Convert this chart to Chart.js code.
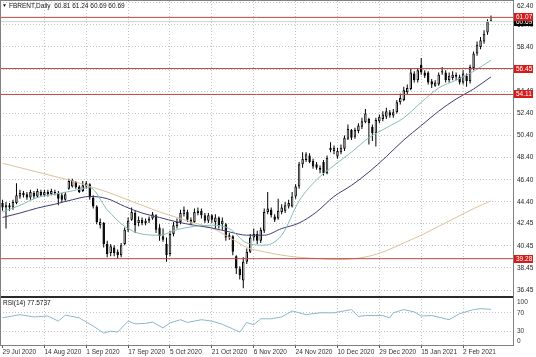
<!DOCTYPE html>
<html><head><meta charset="utf-8">
<script src="https://cdn.jsdelivr.net/npm/chart.js@4.4.1/dist/chart.umd.min.js"></script>
<style>
html,body{margin:0;padding:0;background:#fff;width:536px;height:357px;overflow:hidden}
.box{position:absolute;left:0;width:536px}
</style></head><body>
<div class="box" style="top:0;height:296px"><canvas id="c1"></canvas></div>
<div class="box" style="top:296px;height:61px"><canvas id="c2"></canvas></div>
<script>
// ---------- DATA ----------
const open = [44.3,43.9,44.1,43.9,44.3,44.9,45.2,45.1,44.8,45.2,44.9,45.3,45.0,45.3,45.1,45.3,45.2,45.0,44.6,45.6,
45.8,46.2,45.8,45.4,45.8,46.0,44.8,44.0,42.3,42.5,40.6,39.8,40.3,39.9,39.6,40.6,41.9,42.8,43.4,42.5,
42.8,42.5,42.7,42.9,43.2,42.1,41.3,40.6,39.7,41.5,42.2,42.6,43.3,43.5,42.8,42.6,43.4,43.6,43.2,42.7,
43.2,42.6,43.0,42.4,42.4,41.2,41.3,39.5,38.4,37.3,39.0,39.9,41.2,41.5,40.9,41.8,43.5,43.7,43.1,42.9,
43.5,43.6,44.0,44.0,44.9,45.8,47.8,48.2,48.6,48.1,47.8,47.5,48.0,47.0,49.3,49.0,48.5,48.9,49.2,50.1,
50.9,50.3,50.8,51.2,51.6,51.9,51.2,50.6,51.7,51.9,52.1,52.5,52.2,52.5,53.4,53.6,54.3,54.6,56.0,55.4,
56.8,56.1,56.1,55.3,54.9,55.0,56.1,56.1,55.4,55.6,55.9,55.7,55.2,55.8,55.3,56.5,57.8,58.4,58.9,59.7,60.81];
const high = [44.6,44.4,44.3,44.6,46.1,45.5,45.4,45.3,45.5,45.4,45.6,45.5,45.5,45.5,45.6,45.5,45.4,45.2,45.3,46.5,
46.5,46.3,45.9,46.3,46.3,46.1,45.0,44.1,42.9,42.6,40.9,40.6,40.5,40.1,40.7,42.1,43.0,43.9,43.6,43.1,
43.0,42.9,43.1,43.5,43.3,42.4,42.0,41.2,41.8,42.6,42.9,43.7,44.0,43.7,43.0,43.8,43.9,43.8,43.4,43.4,
43.3,43.3,43.1,43.0,42.5,41.6,41.4,39.6,38.6,39.4,40.2,41.5,42.0,41.8,42.1,43.8,45.3,43.9,43.3,44.7,
44.2,44.4,44.6,45.3,46.0,48.0,48.9,48.9,48.8,48.3,48.0,47.7,48.2,48.6,49.8,49.5,49.3,49.6,50.4,51.4,
51.0,51.1,51.5,52.0,52.8,52.0,51.4,52.0,52.3,52.6,52.9,52.7,52.8,53.6,54.2,54.8,55.0,56.4,56.2,56.5,
57.4,56.3,56.2,55.5,55.4,56.1,56.6,56.3,56.1,56.2,56.1,55.9,56.3,56.0,56.8,58.0,58.9,59.3,59.9,60.9,61.24];
const low = [43.6,42.0,43.6,43.7,44.2,44.7,44.8,44.6,44.6,44.7,44.8,44.9,44.9,44.9,45.0,45.0,44.1,44.4,44.5,45.5,
45.7,45.6,45.2,45.3,45.6,44.6,43.8,42.4,42.0,40.3,39.4,39.5,39.5,39.3,39.4,40.5,41.7,42.7,41.6,42.2,
42.3,42.3,42.5,42.8,41.6,40.9,40.8,39.0,39.5,41.3,42.0,42.4,43.1,42.6,42.3,42.5,43.2,42.9,42.5,42.5,
42.5,42.0,42.0,41.9,40.9,41.0,39.6,37.9,37.4,36.6,38.8,39.8,40.9,40.6,40.7,41.6,43.3,43.0,42.6,42.8,
43.3,43.4,43.8,43.9,44.7,45.6,47.5,48.0,47.9,47.4,47.3,47.0,46.8,46.9,48.9,48.7,48.3,48.7,49.0,50.0,
50.0,50.1,50.6,51.0,51.5,49.6,49.9,49.4,51.5,51.7,51.9,52.0,52.0,52.4,53.2,53.5,54.1,54.5,55.2,55.2,
55.9,55.6,55.0,54.7,54.8,54.9,55.9,55.2,55.2,55.4,55.4,55.0,55.0,54.8,55.1,56.3,57.6,58.2,58.7,59.5,60.69];
const close = [43.9,44.1,43.9,44.4,45.0,45.2,45.0,44.8,45.3,44.9,45.4,45.0,45.3,45.1,45.4,45.2,44.7,44.6,45.1,46.3,
46.4,45.7,45.3,45.9,46.1,44.8,44.0,42.6,42.6,40.6,39.7,40.4,39.8,39.6,40.5,41.9,42.7,43.5,42.3,42.8,
42.5,42.7,42.9,43.3,41.9,41.3,41.0,39.6,41.5,42.3,42.6,43.4,43.7,42.8,42.6,43.5,43.6,43.2,42.7,43.2,
42.8,43.0,42.3,42.7,41.2,41.4,39.9,38.4,37.8,39.0,39.9,41.2,41.5,40.9,41.9,43.5,43.8,43.2,42.8,43.6,
43.9,44.1,44.3,44.9,45.8,47.8,48.3,48.7,48.0,47.6,47.5,47.3,47.0,48.4,49.1,49.3,49.0,49.3,50.2,51.0,
50.2,50.9,51.3,51.7,52.4,51.5,50.6,51.8,52.1,52.3,52.6,52.2,52.5,53.4,53.8,54.5,54.7,56.1,55.4,56.3,
56.1,55.8,55.2,55.0,55.2,55.9,56.2,55.4,55.8,55.9,55.7,55.2,56.0,55.3,56.6,57.8,58.6,59.0,59.6,60.7,60.69];

// moving averages, read at every 5th bar
const maBars  = [0,5,10,15,20,25,30,35,40,45,50,55,60,65,70,75,80,85,90,95,100,105,110,115,120,125,130,135,140];
const maFast  = [43.5,44.1,44.8,45.1,45.4,45.7,43.7,42.2,41.5,41.4,41.9,42.2,42.3,42.0,40.7,40.5,41.4,44.5,46.4,47.7,48.9,50.2,51.1,52.0,53.4,54.7,55.4,56.2,57.2];
const maMid   = [43.0,43.4,43.85,44.2,44.6,44.9,44.7,44.0,43.4,43.0,42.6,42.3,42.05,41.7,41.4,41.4,42.0,42.5,43.5,44.9,45.9,47.1,48.5,50.0,51.3,52.6,53.7,54.6,55.7];
const maSlow  = [47.9,47.5,47.1,46.7,46.3,45.8,45.3,44.7,44.1,43.5,43.0,42.5,42.05,41.2,40.3,39.9,39.6,39.4,39.3,39.2,39.25,39.5,40.0,40.7,41.4,42.2,43.0,43.8,44.5];

// RSI(14), read at these bars
const rsiBars = [0,5,9,13,16,18,22,26,29,31,33,36,38,41,43,46,48,51,53,57,60,63,66,68,70,72,74,77,80,83,87,91,95,100,102,104,109,111,112,115,118,120,123,128,131,135,137,140];
const rsiVals = [59,66,61,63,52,65,59,41,26,30,28,52,46,47,50,37,48,55,49,55,52,45,35,28,49,44,57,57,61,74,66,70,70,77,62,64,64,59,70,77,72,63,64,55,68,77,79,77.5737];

const levels = [61.07, 56.45, 54.11, 39.28];
const bidPrice = 60.69;
const priceTicks = [36.45,38.45,40.45,42.45,44.40,46.40,48.40,50.40,52.40,54.40,56.40,58.40,60.40,62.40];
const rsiTicks = [0,30,70,100];
const rsiLevels = [30,70];
const xTickLabels = ['29 Jul 2020','14 Aug 2020','1 Sep 2020','17 Sep 2020','5 Oct 2020','21 Oct 2020','6 Nov 2020','24 Nov 2020','10 Dec 2020','29 Dec 2020','15 Jan 2021','2 Feb 2021'];
const xTickBars = [0,12,24,36,48,60,72,84,96,108,120,132];

// ---------- CHART ----------
const FONT = '"Liberation Sans", Arial, sans-serif';
const FS = 6.5;
const X_MIN = -0.72, X_MAX = 146.3;
const Y_MIN = 36.09, Y_MAX = 62.55;
const GRID = '#c4c4c4';
const last = close.length - 1;

const bars = open.map((_, i) => i);
const wickData = bars.map(i => ({x: i, y: [low[i], high[i]]}));
const bodyData = bars.map(i => ({x: i, y: [Math.min(open[i], close[i]), Math.max(open[i], close[i])]}));
const bodyFill = bars.map(i => close[i] >= open[i] ? '#ffffff' : '#000000');
const maLine = (arr, color, order) => ({
  type: 'line', data: maBars.map((b, k) => ({x: b, y: arr[k]})),
  borderColor: color, borderWidth: 1, pointRadius: 0, cubicInterpolationMode: 'monotone', order
});
const levelLine = (v, color) => ({
  type: 'line', data: [{x: X_MIN, y: v}, {x: X_MAX, y: v}],
  borderColor: color, borderWidth: 1, pointRadius: 0, order: 0
});
const noPad = s => { s.paddingTop = 0; s.paddingBottom = 0; s.paddingLeft = 0; s.paddingRight = 0; };

const mainOverlay = {
  id: 'mainOverlay',
  afterDraw(chart) {
    const {ctx, chartArea: a, scales: {y}} = chart;
    const R = Math.round(a.right);
    ctx.save();
    ctx.strokeStyle = '#808080'; ctx.lineWidth = 1;
    ctx.beginPath();
    ctx.moveTo(R + 0.5, 0); ctx.lineTo(R + 0.5, chart.height);
    ctx.moveTo(0, 0.5); ctx.lineTo(R, 0.5);
    ctx.moveTo(0.5, 0); ctx.lineTo(0.5, chart.height);
    ctx.stroke();
    ctx.font = FS + 'px ' + FONT; ctx.textBaseline = 'middle'; ctx.textAlign = 'left';
    ctx.fillStyle = '#222';
    for (let k = 0; k < priceTicks.length; k++) {
      const v = priceTicks[k];
      let py = y.getPixelForValue(v);
      if (!(py > 6)) py = 6;
      ctx.fillText(v.toFixed(2), R + 4, py);
    }
    const box = (v, bg) => {
      const py = Math.round(y.getPixelForValue(v));
      ctx.fillStyle = bg; ctx.fillRect(R + 1, py - 4, 19, 8);
      ctx.fillStyle = '#fff'; ctx.fillText(v.toFixed(2), R + 3, py + 0.5);
    };
    box(bidPrice, '#000000');
    levels.forEach(v => box(v, '#d41c1c'));
    ctx.fillStyle = '#111';
    ctx.font = '5px ' + FONT;
    ctx.fillText('\u25BC', 2, 6);
    ctx.font = FS + 'px ' + FONT;
    ctx.fillText('FBRENT,Daily  ' + [open[last], high[last], low[last], close[last]].map(v => v.toFixed(2)).join(' '), 9, 6);
    ctx.restore();
  }
};

new Chart(document.getElementById('c1'), {
  data: {
    datasets: [
      {type: 'bar', data: wickData, backgroundColor: '#000', borderWidth: 0, grouped: false, maxBarThickness: 1, order: 6},
      {type: 'bar', data: bodyData, backgroundColor: bodyFill, borderColor: '#000', borderWidth: 1, borderSkipped: false,
       grouped: false, maxBarThickness: 3, minBarLength: 1, order: 5},
      maLine(maSlow, '#dcc19c', 4),
      maLine(maMid, '#3d3d72', 3),
      maLine(maFast, '#86bdb6', 2),
      levelLine(bidPrice, '#c9d8c9'),
      ...levels.map(v => levelLine(v, '#c0453f'))
    ]
  },
  options: {
    responsive: true, maintainAspectRatio: false, animation: false,
    layout: {padding: {top: 1, bottom: 2, left: 0, right: 0}},
    plugins: {legend: {display: false}, tooltip: {enabled: false}},
    scales: {
      x: {type: 'linear', min: X_MIN, max: X_MAX, offset: false,
          afterBuildTicks: s => { s.ticks = xTickBars.slice(1).map(v => ({value: v})); },
          ticks: {display: false},
          grid: {color: GRID, drawTicks: false, offset: false},
          border: {display: false, dash: [1, 2]},
          afterFit: s => { s.height = 0; noPad(s); }},
      y: {position: 'right', min: Y_MIN, max: Y_MAX, offset: false,
          afterBuildTicks: s => { s.ticks = priceTicks.map(v => ({value: v})); },
          ticks: {display: false},
          grid: {color: GRID, drawTicks: false},
          border: {display: false, dash: [1, 2]},
          afterFit: s => { s.width = 23; noPad(s); }}
    }
  },
  plugins: [mainOverlay]
});

const rsiOverlay = {
  id: 'rsiOverlay',
  afterDraw(chart) {
    const {ctx, chartArea: a, scales: {y}} = chart;
    const R = Math.round(a.right);
    ctx.save();
    ctx.fillStyle = '#2a2a2a'; ctx.fillRect(0, 0, R + 1, 2);
    ctx.strokeStyle = '#808080'; ctx.lineWidth = 1;
    ctx.beginPath();
    ctx.moveTo(R + 0.5, 0); ctx.lineTo(R + 0.5, a.bottom + 1);
    ctx.moveTo(0, Math.round(a.bottom) + 0.5); ctx.lineTo(R, Math.round(a.bottom) + 0.5);
    ctx.moveTo(0.5, 0); ctx.lineTo(0.5, a.bottom);
    ctx.stroke();
    ctx.font = FS + 'px ' + FONT; ctx.textBaseline = 'middle'; ctx.textAlign = 'left'; ctx.fillStyle = '#333';
    rsiTicks.forEach(v => {
      let py = y.getPixelForValue(v);
      py = Math.max(a.top + 3.5, Math.min(a.bottom - 3.5, py));
      ctx.fillText(String(v), R + 4, py);
    });
    ctx.fillStyle = '#111';
    ctx.fillText('RSI(14) ' + rsiVals[rsiVals.length - 1].toFixed(4), 3, a.top + 4);
    ctx.restore();
  }
};

new Chart(document.getElementById('c2'), {
  data: {
    datasets: [{type: 'line', data: rsiBars.map((b, k) => ({x: b, y: rsiVals[k]})),
      borderColor: '#8ab8c8', borderWidth: 1, pointRadius: 0}]
  },
  options: {
    responsive: true, maintainAspectRatio: false, animation: false,
    layout: {padding: {top: 3, bottom: 0, left: 0, right: 0}},
    plugins: {legend: {display: false}, tooltip: {enabled: false}},
    scales: {
      x: {type: 'linear', min: X_MIN, max: X_MAX, offset: false,
          afterBuildTicks: s => { s.ticks = xTickBars.map(v => ({value: v})); },
          ticks: {callback: (v, i) => xTickLabels[i], align: 'start', font: {size: FS, family: FONT}, color: '#333',
                  padding: 0, maxRotation: 0, autoSkip: false},
          grid: {color: c => c.index === 0 ? 'rgba(0,0,0,0)' : GRID, tickLength: 3, tickColor: '#555', offset: false},
          border: {display: false, dash: [1, 2]},
          afterFit: s => { s.height = 12; noPad(s); }},
      y: {position: 'right', min: 0, max: 100,
          afterBuildTicks: s => { s.ticks = rsiLevels.map(v => ({value: v})); },
          ticks: {display: false},
          grid: {color: GRID, drawTicks: false},
          border: {display: false, dash: [1, 2]},
          afterFit: s => { s.width = 23; noPad(s); }}
    }
  },
  plugins: [rsiOverlay]
});
</script>
</body></html>
